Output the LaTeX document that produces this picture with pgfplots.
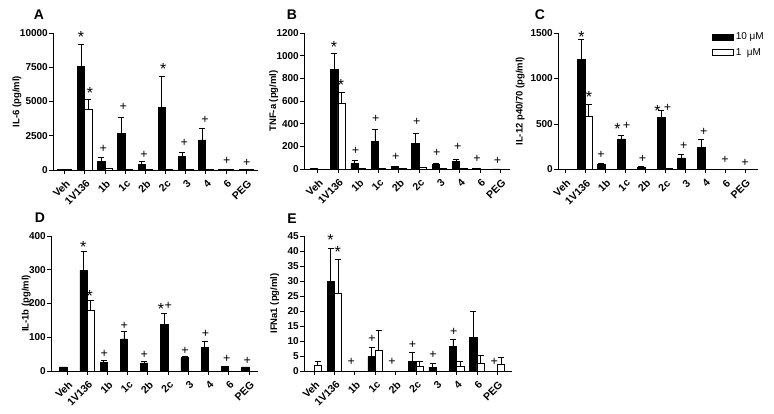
\documentclass[border=0pt]{standalone}
\usepackage{fontspec}
\setmainfont{Liberation Sans}
\usepackage{pgfplots}
\usepackage{pgfplotstable}
\pgfplotsset{compat=1.18}

\pgfplotstableread{
x y ey w ew
0 30 0 20 0
1 7580 1610 4420 740
2 650 270 100 0
3 2650 1180 40 0
4 420 220 20 0
5 4570 2250 80 0
6 1020 300 50 0
7 2190 840 30 0
8 60 0 10 0
9 20 0 10 0
}\dataA
\pgfplotstableread{
x y ey w ew
0 5 0 0 0
1 876 147 576 100
2 50 25 5 0
3 244 103 5 0
4 20 5 3 0
5 224 94 10 0
6 40 8 3 0
7 68 18 3 0
8 5 0 0 0
9 0 0 0 0
}\dataB
\pgfplotstableread{
x y ey w ew
0 0 0 0 0
1 1214 212 580 135
2 52 20 5 0
3 336 40 0 0
4 28 5 0 0
5 573 78 10 0
6 127 41 0 0
7 238 92 0 0
8 5 0 0 0
9 0 0 0 0
}\dataC
\pgfplotstableread{
x y ey w ew
0 12 0 0 0
1 298 57 179 30
2 26 5 0 0
3 95 21 0 0
4 24 4 0 0
5 137 33 0 0
6 39 3 0 0
7 70 17 0 0
8 14 0 0 0
9 12 0 0 0
}\dataD
\pgfplotstableread{
x y ey w ew
0 0 0 1.8 1.5
1 30 11 26 11.3
2 0 0 0 0
3 4.8 3 6.8 6.7
4 0 0 0 0
5 3.2 2.9 1.6 1.6
6 1.3 1.2 0 0
7 8.2 2.2 1.7 1.6
8 11.3 8.7 2.6 2.5
9 0 0 2.2 2.3
}\dataE

\pgfplotsset{
  panel/.style={
    scale only axis, clip=false,
    axis x line=bottom, axis y line=left,
    axis line style={-, line width=0.8pt, black},
    tick align=outside, major tick length=4pt,
    tick style={black, line width=0.8pt},
    ymin=0,
    xtick={0,...,9},
    xticklabels={Veh,1V136,1b,1c,2b,2c,3,4,6,PEG},
    xticklabel style={rotate=45, anchor=north east, inner sep=0pt,
      xshift=-3pt, yshift=-4pt,
      font=\bfseries\fontsize{10.5}{10.5}\selectfont},
    yticklabel style={inner sep=1pt, font=\bfseries\fontsize{10}{10}\selectfont},
    ylabel style={font=\bfseries\fontsize{9.5}{10}\selectfont},
    scaled y ticks=false,
    /pgf/number format/fixed,
    /pgf/number format/set thousands separator={},
    /pgf/number format/assume math mode=true,
    anchor=south west,
  },
  ebar/.style={
    error bars/y dir=plus, error bars/y explicit,
    error bars/error mark=-,
    error bars/error bar style={line width=0.8pt, black, solid},
    error bars/error mark options={rotate=90, black, line width=0.8pt, mark size=3pt}},
  blk/.style={ybar, bar width=0.36, bar shift=0, fill=black, draw=black,
    line width=0.8pt, ebar},
  wht/.style={ybar, bar width=0.36, bar shift=0, fill=white, draw=black,
    line width=0.8pt, ebar},
}
\tikzset{
  ast/.style={font=\fontsize{16}{16}\selectfont, inner sep=0pt, yshift=-3.5pt},
  pls/.style={font=\fontsize{12.5}{12.5}\selectfont, inner sep=0pt, yshift=-0.7pt},
  plab/.style={font=\bfseries\fontsize{14}{14}\selectfont, inner sep=0pt},
}

\begin{document}
\begin{tikzpicture}
\useasboundingbox (0,0) rectangle (774pt,-414pt);

% Panel A
\begin{axis}[panel, at={(53pt,-170pt)}, width=205pt, height=137pt,
  xmin=-0.57, xmax=9.58, ymax=10000, ytick={0,2500,5000,7500,10000},
  ylabel={IL-6 (pg/ml)}, ylabel shift=-6pt]
\addplot[blk] table[x expr=\thisrow{x}-0.18, y=y, y error=ey]{\dataA};
\addplot[wht] table[x expr=\thisrow{x}+0.18, y=w, y error=ew]{\dataA};
\node[ast] at (axis cs:0.82,10000) {*};
\node[ast] at (axis cs:1.26,5840) {*};
\node[pls] at (axis cs:1.92,1560) {+};
\node[pls] at (axis cs:2.91,4670) {+};
\node[pls] at (axis cs:3.94,1120) {+};
\node[ast] at (axis cs:4.89,7630) {*};
\node[pls] at (axis cs:5.93,2050) {+};
\node[pls] at (axis cs:6.96,3720) {+};
\node[pls] at (axis cs:8.03,710) {+};
\node[pls] at (axis cs:9.02,540) {+};
\end{axis}

% Panel B
\begin{axis}[panel, at={(304pt,-169pt)}, width=206pt, height=136pt,
  xmin=-0.67, xmax=9.47, ymax=1200, ytick={0,200,...,1200},
  ylabel={TNF-a (pg/ml)}, ylabel shift=-6pt]
\addplot[blk] table[x expr=\thisrow{x}-0.18, y=y, y error=ey]{\dataB};
\addplot[wht] table[x expr=\thisrow{x}+0.18, y=w, y error=ew]{\dataB};
\node[ast] at (axis cs:0.8,1110) {*};
\node[ast] at (axis cs:1.15,774) {*};
\node[pls] at (axis cs:1.87,162) {+};
\node[pls] at (axis cs:2.86,450) {+};
\node[pls] at (axis cs:3.85,112) {+};
\node[pls] at (axis cs:4.88,426) {+};
\node[pls] at (axis cs:5.86,147) {+};
\node[pls] at (axis cs:6.9,200) {+};
\node[pls] at (axis cs:7.85,97) {+};
\node[pls] at (axis cs:8.85,82) {+};
\end{axis}

% Panel C
\begin{axis}[panel, at={(558pt,-169.5pt)}, width=200pt, height=136.5pt,
  xmin=-0.35, xmax=9.65, ymax=1500, ytick={0,500,1000,1500},
  ylabel={IL-12 p40/70 (pg/ml)}, ylabel shift=1.5pt,
  legend style={at={(axis description cs:0.77,1.015)}, anchor=north west,
    draw=none, fill=none, font=\fontsize{10}{10}\selectfont,
    row sep=3pt, inner sep=0pt, outer sep=0pt,
    cells={anchor=west}},
  legend image code/.code={\draw[#1, line width=0.8pt] (0pt,-3pt) rectangle (21pt,3pt);}]
\addplot[blk, forget plot] table[x expr=\thisrow{x}-0.18, y=y, y error=ey]{\dataC};
\addplot[wht, forget plot] table[x expr=\thisrow{x}+0.18, y=w, y error=ew]{\dataC};
\addlegendimage{fill=black, draw=black}
\addlegendentry{10 μM}
\addlegendimage{fill=white, draw=black}
\addlegendentry{1\ \ μM}
\node[ast] at (axis cs:0.82,1500) {*};
\node[ast] at (axis cs:1.2,840) {*};
\node[pls] at (axis cs:1.8,165) {+};
\node[ast] at (axis cs:2.63,488) {*};
\node[pls] at (axis cs:3.08,488) {+};
\node[pls] at (axis cs:3.88,128) {+};
\node[ast] at (axis cs:4.62,686) {*};
\node[pls] at (axis cs:5.12,686) {+};
\node[pls] at (axis cs:5.94,268) {+};
\node[pls] at (axis cs:6.94,422) {+};
\node[pls] at (axis cs:8.0,110) {+};
\node[pls] at (axis cs:9.0,77) {+};
\end{axis}

% Panel D
\begin{axis}[panel, at={(51pt,-371pt)}, width=207pt, height=135pt,
  xmin=-0.79, xmax=9.45, ymax=400, ytick={0,100,...,400},
  ylabel={IL-1b (pg/ml)}, ylabel shift=-6pt]
\addplot[blk] table[x expr=\thisrow{x}-0.18, y=y, y error=ey]{\dataD};
\addplot[wht] table[x expr=\thisrow{x}+0.18, y=w, y error=ew]{\dataD};
\node[ast] at (axis cs:0.8,378) {*};
\node[ast] at (axis cs:1.13,234) {*};
\node[pls] at (axis cs:1.84,54) {+};
\node[pls] at (axis cs:2.83,137) {+};
\node[pls] at (axis cs:3.82,49) {+};
\node[ast] at (axis cs:4.65,195) {*};
\node[pls] at (axis cs:5.01,195) {+};
\node[pls] at (axis cs:5.84,63) {+};
\node[pls] at (axis cs:6.86,112) {+};
\node[pls] at (axis cs:7.9,39) {+};
\node[pls] at (axis cs:8.92,32) {+};
\end{axis}

% Panel E
\begin{axis}[panel, at={(304pt,-371pt)}, width=208pt, height=135pt,
  xmin=-0.5, xmax=9.72, ymax=45, ytick={0,5,...,45},
  ylabel={IFNa1 (pg/ml)}, ylabel shift=4pt]
\addplot[blk] table[x expr=\thisrow{x}-0.18, y=y, y error=ey]{\dataE};
\addplot[wht] table[x expr=\thisrow{x}+0.18, y=w, y error=ew]{\dataE};
\node[ast] at (axis cs:0.8,45) {*};
\node[ast] at (axis cs:1.16,40.8) {*};
\node[pls] at (axis cs:1.82,3.3) {+};
\node[pls] at (axis cs:2.84,10.8) {+};
\node[pls] at (axis cs:3.82,3.3) {+};
\node[pls] at (axis cs:4.83,8.8) {+};
\node[pls] at (axis cs:5.84,5.5) {+};
\node[pls] at (axis cs:6.86,13.2) {+};
\node[pls] at (axis cs:8.85,3.3) {+};
\end{axis}

\node[plab] at (39pt,-15pt) {A};
\node[plab] at (292pt,-15pt) {B};
\node[plab] at (540pt,-15pt) {C};
\node[plab] at (40pt,-218pt) {D};
\node[plab] at (292pt,-219pt) {E};
\end{tikzpicture}
\end{document}
